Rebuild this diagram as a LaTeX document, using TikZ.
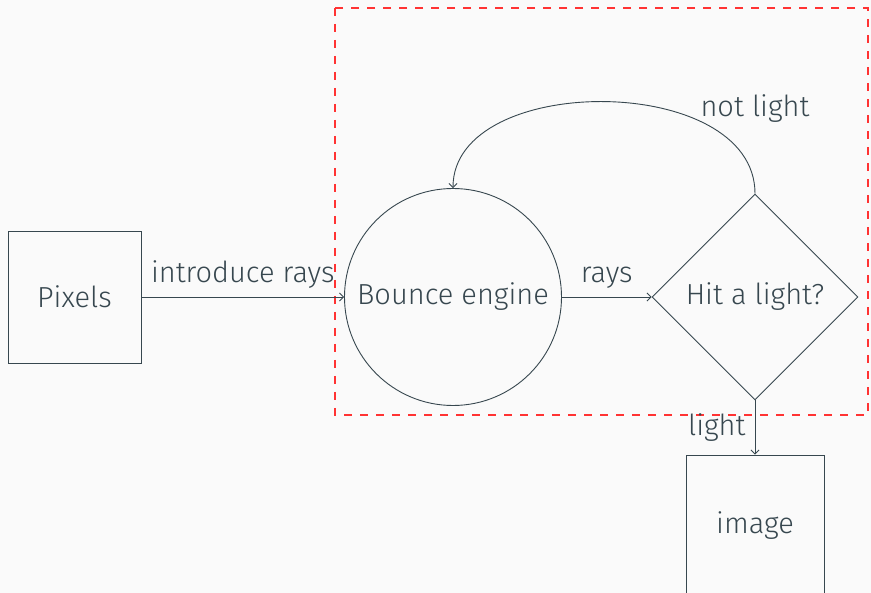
\documentclass[tikz,border=0pt]{standalone}
\usepackage{fontspec}
\setmainfont{Fira Sans Light}
\usetikzlibrary{shapes.geometric,arrows.meta}
\definecolor{bgcol}{HTML}{FAFAFA}
\definecolor{ink}{HTML}{37474F}
\definecolor{groupred}{HTML}{FF3333}
\tikzset{
  base/.style={draw=ink, line width=0.9pt, text=ink, font=\fontsize{29}{34}\selectfont, inner sep=0pt},
  boxnode/.style={base, rectangle},
  roundnode/.style={base, circle},
  decision/.style={base, diamond},
  flow/.style={draw=ink, line width=0.9pt, -{Straight Barb[length=4pt,width=8pt]}},
  lbl/.style={text=ink, font=\fontsize{29}{34}\selectfont, inner sep=0pt},
  group/.style={draw=groupred, line width=1.2pt, dash pattern=on 8pt off 8pt}
}
\begin{document}
\begin{tikzpicture}[x=1pt, y=-1pt]
  \fill[bgcol] (0,0) rectangle (871,593);
  \useasboundingbox (0,0) rectangle (871,593);

  % enclosing group of the bounce loop
  \draw[group] (335,8) rectangle (868,415);

  \node[boxnode, minimum width=133pt, minimum height=132pt] (pix) at (74.5,297) {Pixels};
  \node[roundnode, minimum size=217pt] (eng) at (453,297) {Bounce engine};
  \node[decision, minimum width=206pt, minimum height=206pt] (hit) at (755,297) {Hit a light?};
  \node[boxnode, minimum width=138pt, minimum height=142pt] (img) at (755,526) {image};

  \draw[flow] (pix) -- node[lbl, midway, above=8pt] {introduce rays} (eng);
  \draw[flow] (eng) -- node[lbl, midway, above=8pt] {rays} (hit);
  \draw[flow] (hit.south) -- node[lbl, midway, left=9pt] {light} (img.north);
  \draw[flow] (hit.north) .. controls (755,72) and (453,72) .. (eng.north);
  \node[lbl] (notlight) at (755,109) {not light};
\end{tikzpicture}
\end{document}
